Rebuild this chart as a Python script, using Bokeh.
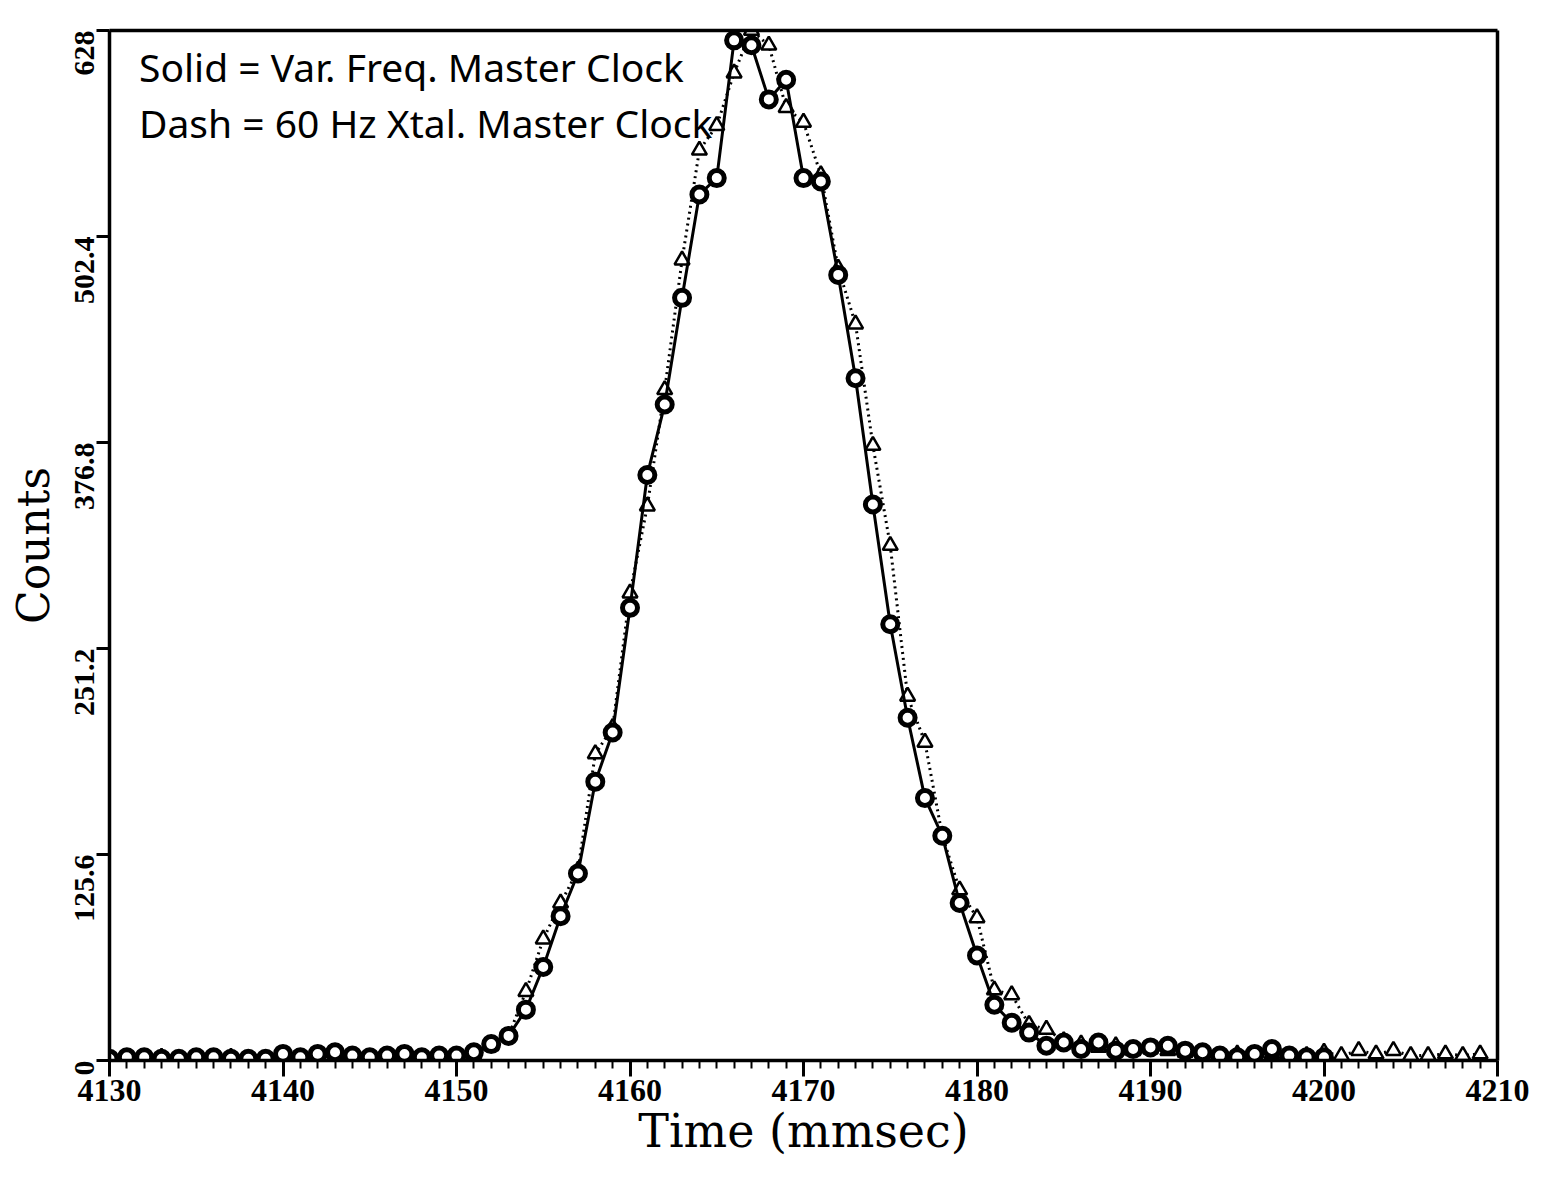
from bokeh.plotting import figure
from bokeh.models import FixedTicker, Range1d, Label, ColumnDataSource, LinearAxis
from bokeh.embed import file_html
from bokeh.resources import INLINE

# ---- data ----
time_solid = list(range(4130, 4201))
counts_solid = [1, 2, 2, 1, 1, 2, 2, 1, 1, 1,
                4, 2, 4, 5, 3, 2, 3, 4, 2, 3,
                3, 5, 10, 15, 31, 57, 88, 114, 170, 200,
                276, 357, 400, 465, 528, 538, 622, 619, 586, 598,
                538, 536, 479, 416, 339, 266, 209, 160, 137, 96,
                64, 34, 23, 17, 9, 11, 7, 11, 6, 7,
                8, 9, 6, 5, 3, 2, 4, 7, 3, 2,
                2]

time_dash = list(range(4130, 4210))
counts_dash = [1, 2, 1, 2, 1, 2, 1, 2, 1, 1,
               3, 2, 3, 4, 3, 2, 3, 3, 2, 2,
               3, 4, 9, 15, 42, 74, 96, 116, 187, 203,
               285, 338, 409, 488, 555, 570, 602, 628, 619, 581,
               572, 540, 483, 449, 375, 314, 222, 194, 137, 104,
               87, 43, 40, 22, 19, 12, 10, 8, 9, 6,
               7, 6, 5, 4, 3, 4, 3, 4, 3, 3,
               5, 3, 6, 4, 6, 3, 3, 4, 3, 4]

x_ticks = [4130, 4140, 4150, 4160, 4170, 4180, 4190, 4200, 4210]
x_minor_ticks = list(range(4130, 4211))
y_ticks = [0, 125.6, 251.2, 376.8, 502.4, 628]
y_tick_labels = ["0", "125.6", "251.2", "376.8", "502.4", "628"]

x_title = "Time (mmsec)"
y_title = "Counts"
legend_lines = ["Solid = Var. Freq. Master Clock", "Dash = 60 Hz Xtal. Master Clock"]

src_s = ColumnDataSource(dict(t=time_solid, c=counts_solid))
src_d = ColumnDataSource(dict(t=time_dash, c=counts_dash))

p = figure(width=1543, height=1166, output_backend="svg", toolbar_location=None,
           x_range=Range1d(4130, 4210), y_range=Range1d(0, 628))
p.min_border_left = 109
p.min_border_right = 46
p.min_border_top = 30
p.min_border_bottom = 106
p.outline_line_color = None
p.grid.visible = False
p.background_fill_color = "white"
p.border_fill_color = "white"

xa = p.xaxis[0]
xa.ticker = FixedTicker(ticks=x_ticks, minor_ticks=x_minor_ticks)
xa.axis_line_width = 3.5
xa.axis_line_color = "black"
xa.major_tick_in = 0
xa.major_tick_out = 16
xa.minor_tick_in = 0
xa.minor_tick_out = 8
xa.major_tick_line_width = 3
xa.minor_tick_line_width = 2
xa.major_tick_line_color = "black"
xa.minor_tick_line_color = "black"
xa.major_label_text_font = "Liberation Serif"
xa.major_label_text_font_style = "bold"
xa.major_label_text_font_size = "32px"
xa.major_label_text_color = "black"
xa.major_label_standoff = 3
xa.axis_label = x_title
xa.axis_label_text_font = "DejaVu Serif"
xa.axis_label_text_font_style = "normal"
xa.axis_label_text_font_size = "46px"
xa.axis_label_text_color = "black"
xa.axis_label_standoff = 0

ya = p.yaxis[0]
ya.ticker = FixedTicker(ticks=y_ticks, minor_ticks=[])
ya.major_label_overrides = {v: s for v, s in zip(y_ticks, y_tick_labels)}
ya.major_label_orientation = 1.5708
ya.axis_line_width = 3.5
ya.axis_line_color = "black"
ya.major_tick_in = 0
ya.major_tick_out = 13
ya.major_tick_line_width = 3
ya.major_tick_line_color = "black"
ya.minor_tick_line_color = None
ya.major_label_text_font = "Liberation Serif"
ya.major_label_text_font_style = "bold"
ya.major_label_text_font_size = "30px"
ya.major_label_text_color = "black"
ya.major_label_standoff = 12
ya.axis_label = y_title
ya.axis_label_text_font = "DejaVu Serif"
ya.axis_label_text_font_style = "normal"
ya.axis_label_text_font_size = "44px"
ya.axis_label_text_color = "black"
ya.axis_label_standoff = 4

# plain frame lines on top and right (axes with no ticks and no labels)
for side in ("above", "right"):
    ax = LinearAxis(ticker=FixedTicker(ticks=[], minor_ticks=[]),
                    axis_line_width=3.5, axis_line_color="black",
                    major_tick_line_color=None, minor_tick_line_color=None)
    p.add_layout(ax, side)

p.line("t", "c", source=src_d, line_color="black", line_width=3, line_dash="2 4")
p.scatter("t", "c", source=src_d, marker="triangle", size=15, line_color="black",
          line_width=2.5, fill_color="white")
p.line("t", "c", source=src_s, line_color="black", line_width=3)
p.scatter("t", "c", source=src_s, marker="circle", size=15, line_color="black",
          line_width=5, fill_color="white")

for i, txt in enumerate(legend_lines):
    p.add_layout(Label(x=4131.7, y=606 - 34 * i, text=txt, text_font="Noto Sans",
                       text_font_size="39px", text_color="black",
                       text_baseline="middle", text_align="left"))

open("out.html", "w").write(file_html(p, INLINE))
